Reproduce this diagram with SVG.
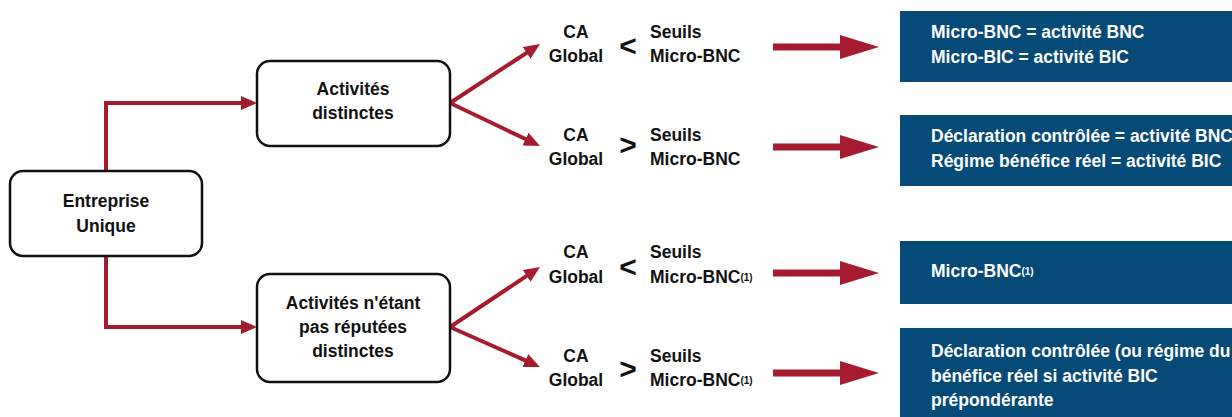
<svg xmlns="http://www.w3.org/2000/svg" width="1232" height="417" viewBox="0 0 1232 417">
<style>
text{font-family:"Liberation Sans",Arial,sans-serif;font-weight:bold;font-size:17.5px;fill:#111}
.c{text-anchor:middle}
.w{fill:#fff}
.sym{font-size:30px}
.sup{font-size:10px}
.box{fill:#fff;stroke:#111;stroke-width:2.5}
.blue{fill:#064a77}
.ln{fill:none;stroke:#a51c30;stroke-width:4}
.fat{fill:#a51c30}
</style>
<defs>
<marker id="ah" viewBox="0 0 16 14" refX="4" refY="7" markerWidth="16" markerHeight="14" markerUnits="userSpaceOnUse" orient="auto">
<path d="M0,0 L16,7 L0,14 Z" fill="#a51c30"/>
</marker>
</defs>
<g id="connectors">
<path class="ln" d="M106,171 V103 H245" marker-end="url(#ah)"/>
<path class="ln" d="M106,256 V327 H245" marker-end="url(#ah)"/>
<path class="ln" d="M450,103 L530,50.6" marker-end="url(#ah)"/>
<path class="ln" d="M450,103 L529.2,140.8" marker-end="url(#ah)"/>
<path class="ln" d="M450,327 L530,273.7" marker-end="url(#ah)"/>
<path class="ln" d="M450,327 L529,362.1" marker-end="url(#ah)"/>
<path class="fat" d="M773,43.5 H840 V35 L879,47 L840,59 V50.5 H773 Z"/>
<path class="fat" d="M773,143.5 H840 V135 L879,147 L840,159 V150.5 H773 Z"/>
<path class="fat" d="M773,269.5 H840 V261 L879,273 L840,285 V276.5 H773 Z"/>
<path class="fat" d="M773,369.5 H840 V361 L879,373 L840,385 V376.5 H773 Z"/>
</g>
<g id="entreprise">
<rect class="box" x="10" y="171" width="192" height="85" rx="13"/>
<text class="c" x="106" y="207">Entreprise</text>
<text class="c" x="106" y="232">Unique</text>
</g>
<g id="distinctes">
<rect class="box" x="257" y="61" width="193" height="85" rx="13"/>
<text class="c" x="353" y="95">Activités</text>
<text class="c" x="353" y="119">distinctes</text>
</g>
<g id="non-distinctes">
<rect class="box" x="257" y="274" width="193" height="108" rx="13"/>
<text class="c" x="353" y="309">Activités n'étant</text>
<text class="c" x="353" y="333">pas réputées</text>
<text class="c" x="353" y="357">distinctes</text>
</g>
<g id="cond1">
<text class="c" x="576" y="38">CA</text>
<text class="c" x="576" y="62">Global</text>
<text class="c sym" x="628" y="56">&lt;</text>
<text x="650" y="38">Seuils</text>
<text x="650" y="62">Micro-BNC</text>
</g>
<g id="cond2">
<text class="c" x="576" y="141">CA</text>
<text class="c" x="576" y="165">Global</text>
<text class="c sym" x="628" y="155">&gt;</text>
<text x="650" y="141">Seuils</text>
<text x="650" y="165">Micro-BNC</text>
</g>
<g id="cond3">
<text class="c" x="576" y="258">CA</text>
<text class="c" x="576" y="283">Global</text>
<text class="c sym" x="628" y="277">&lt;</text>
<text x="650" y="258">Seuils</text>
<text x="650" y="283">Micro-BNC<tspan class="sup" dy="-2">(1)</tspan></text>
</g>
<g id="cond4">
<text class="c" x="576" y="362">CA</text>
<text class="c" x="576" y="386">Global</text>
<text class="c sym" x="628" y="379">&gt;</text>
<text x="650" y="362">Seuils</text>
<text x="650" y="386">Micro-BNC<tspan class="sup" dy="-2">(1)</tspan></text>
</g>
<g id="result1">
<rect class="blue" x="900" y="11" width="332" height="71"/>
<text class="w" x="931" y="38">Micro-BNC = activité BNC</text>
<text class="w" x="931" y="63">Micro-BIC = activité BIC</text>
</g>
<g id="result2">
<rect class="blue" x="900" y="115" width="332" height="71"/>
<text class="w" x="931" y="142">Déclaration contrôlée = activité BNC</text>
<text class="w" x="931" y="167">Régime bénéfice réel = activité BIC</text>
</g>
<g id="result3">
<rect class="blue" x="900" y="241" width="332" height="63"/>
<text class="w" x="931" y="277">Micro-BNC<tspan class="sup" dy="-2">(1)</tspan></text>
</g>
<g id="result4">
<rect class="blue" x="900" y="328" width="332" height="89"/>
<text class="w" x="931" y="357">Déclaration contrôlée (ou régime du</text>
<text class="w" x="931" y="382">bénéfice réel si activité BIC</text>
<text class="w" x="931" y="406">prépondérante</text>
</g>
</svg>
